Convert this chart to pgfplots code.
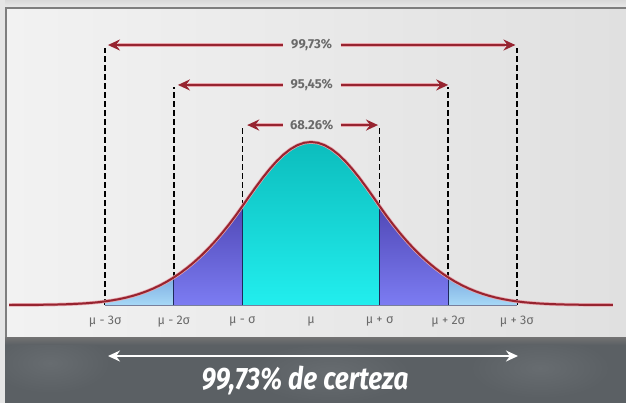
\documentclass[border=0pt]{standalone}
\usepackage{fontspec}
\setmainfont{Fira Sans}
\usepackage{graphicx}
\usepackage{pgfplots}
\pgfplotsset{compat=1.18}
\usepackage{pgfplotstable}
\usetikzlibrary{arrows.meta}

\definecolor{bgdark}{HTML}{5B6064}
\definecolor{bgspot}{HTML}{676C70}
\definecolor{panelL}{HTML}{F2F2F2}
\definecolor{panelR}{HTML}{E0E0E0}
\definecolor{edge}{HTML}{7E7E7E}
\definecolor{curvered}{HTML}{972430}
\definecolor{halo}{HTML}{E8A7AE}
\definecolor{cyanTop}{HTML}{0CBDBD}
\definecolor{cyanBot}{HTML}{22EEEE}
\definecolor{purTop}{HTML}{5048B6}
\definecolor{purBot}{HTML}{7C7CF2}
\definecolor{lbTop}{HTML}{7FAEE2}
\definecolor{lbBot}{HTML}{A6D8F6}
\definecolor{navy}{HTML}{1E2A5A}
\definecolor{labgray}{HTML}{6A6A6A}

\tikzset{
  guide/.style={black, line width=1.7pt, dash pattern=on 6pt off 3pt},
  pct/.style={text=labgray, font=\bfseries\fontsize{13}{14}\selectfont},
  sig/.style={text=labgray, font=\fontsize{12.5}{14}\selectfont},
  redhalo/.style={halo, line width=3.6pt},
  redarrow/.style={curvered, line width=2pt, -{Stealth[length=12pt,width=11pt]}},
}

% standardised normal-shaped curve, peak scaled to 1 (x in sigma units)
\pgfplotstableread{
x y
-4.4 0.00025
-4.2 0.00055
-4.0 0.00109
-3.9 0.00155
-3.8 0.00217
-3.7 0.00301
-3.6 0.00413
-3.5 0.00561
-3.4 0.00754
-3.3 0.01003
-3.2 0.01322
-3.1 0.01722
-3.0 0.02222
-2.9 0.02839
-2.8 0.03591
-2.7 0.04499
-2.6 0.05584
-2.5 0.06866
-2.4 0.08363
-2.3 0.10100
-2.2 0.12093
-2.1 0.14360
-2.0 0.16918
-1.9 0.19778
-1.8 0.22956
-1.7 0.26463
-1.6 0.30306
-1.5 0.34494
-1.4 0.39032
-1.3 0.43922
-1.2 0.49162
-1.1 0.54744
-1.0 0.60653
-0.9 0.66698
-0.8 0.72615
-0.7 0.78270
-0.6 0.83527
-0.5 0.88250
-0.4 0.92312
-0.3 0.95600
-0.2 0.98020
-0.1 0.99501
0.0 1.00000
0.1 0.99501
0.2 0.98020
0.3 0.95600
0.4 0.92312
0.5 0.88250
0.6 0.83527
0.7 0.78270
0.8 0.72615
0.9 0.66698
1.0 0.60653
1.1 0.54744
1.2 0.49162
1.3 0.43922
1.4 0.39032
1.5 0.34494
1.6 0.30306
1.7 0.26463
1.8 0.22956
1.9 0.19778
2.0 0.16918
2.1 0.14360
2.2 0.12093
2.3 0.10100
2.4 0.08363
2.5 0.06866
2.6 0.05584
2.7 0.04499
2.8 0.03591
2.9 0.02839
3.0 0.02222
3.1 0.01722
3.2 0.01322
3.3 0.01003
3.4 0.00754
3.5 0.00561
3.6 0.00413
3.7 0.00301
3.8 0.00217
3.9 0.00155
4.0 0.00109
4.2 0.00055
4.4 0.00025
}\curve

\begin{document}
\begin{tikzpicture}[x=1pt,y=1pt]
\path[use as bounding box] (0,0) rectangle (626,403);
% backdrop: dark strip at the bottom, light panel above
\begin{scope}
\clip (0,0) rectangle (626,403);
\fill[bgdark] (0,0) rectangle (626,403);
\shade[inner color=bgspot, outer color=bgdark] (50,40) ellipse (60 and 30);
\shade[inner color=bgspot, outer color=bgdark] (330,30) ellipse (80 and 30);
\shade[inner color=bgspot, outer color=bgdark] (540,35) ellipse (70 and 30);
\shade[top color=black!55, bottom color=bgdark] (0,58) rectangle (626,66);
\shade[top color=white!85!black, bottom color=white!92!black] (0,395) rectangle (626,403);
\fill[white!90!black] (0,0) rectangle (5,403);
\shade[left color=panelL, right color=panelR] (6,66) rectangle (626,395);
\draw[edge, line width=1.5pt] (6,66) -- (6,395) -- (626,395);
\end{scope}

\begin{axis}[
    at={(0,0)}, anchor=south west,
    width=626pt, height=403pt, scale only axis,
    hide axis, clip=false,
    xmin=-4.5335, xmax=4.5918,
    ymin=-0.6012, ymax=1.8712,
]
% dashed guide lines
\addplot[guide] coordinates {(-3,0) (-3,1.577)};
\addplot[guide] coordinates {(3,0) (3,1.577)};
\addplot[guide] coordinates {(-2,0) (-2,1.337)};
\addplot[guide] coordinates {(2,0) (2,1.337)};
\addplot[guide] coordinates {(-1,0) (-1,1.092)};
\addplot[guide] coordinates {(1,0) (1,1.092)};

% shaded bands
\addplot[draw=none, top color=lbTop, bottom color=lbBot, restrict x to domain=-3:-2] table {\curve} \closedcycle;
\addplot[draw=none, top color=lbTop, bottom color=lbBot, restrict x to domain=2:3] table {\curve} \closedcycle;
\addplot[draw=none, top color=purTop, bottom color=purBot, restrict x to domain=-2:-1] table {\curve} \closedcycle;
\addplot[draw=none, top color=purTop, bottom color=purBot, restrict x to domain=1:2] table {\curve} \closedcycle;
\addplot[draw=none, top color=cyanTop, bottom color=cyanBot, restrict x to domain=-1:1] table {\curve} \closedcycle;

% band borders
\addplot[navy, line width=0.9pt] coordinates {(-2,0) (-2,0.16918)};
\addplot[navy, line width=0.9pt] coordinates {(2,0) (2,0.16918)};
\addplot[navy, line width=0.9pt] coordinates {(-1,0) (-1,0.60653)};
\addplot[navy, line width=0.9pt] coordinates {(1,0) (1,0.60653)};
\addplot[navy!60, line width=0.8pt] coordinates {(-3,0) (3,0)};

% the curve
\addplot[halo, line width=3.4pt] table {\curve};
\addplot[curvered, line width=2pt] table {\curve};

% percentage arrows
\draw[redhalo] (-0.41,1.595) -- (-2.81,1.595);
\draw[redhalo] (0.43,1.595) -- (2.83,1.595);
\draw[redarrow] (-0.41,1.595) -- (-2.96,1.595);
\draw[redarrow] (0.43,1.595) -- (2.98,1.595);
\draw[redhalo] (-0.41,1.350) -- (-1.79,1.350);
\draw[redhalo] (0.43,1.350) -- (1.85,1.350);
\draw[redarrow] (-0.41,1.350) -- (-1.94,1.350);
\draw[redarrow] (0.43,1.350) -- (2.00,1.350);
\draw[redhalo] (-0.41,1.104) -- (-0.78,1.104);
\draw[redhalo] (0.43,1.104) -- (0.83,1.104);
\draw[redarrow] (-0.41,1.104) -- (-0.93,1.104);
\draw[redarrow] (0.43,1.104) -- (0.977,1.104);
\node[pct] at (0.01,1.595) {99,73\%};
\node[pct] at (0.01,1.350) {95,45\%};
\node[pct] at (0.01,1.104) {68.26\%};

% sigma labels
\node[sig] at (-3,-0.104) {μ - 3σ};
\node[sig] at (-2,-0.104) {μ - 2σ};
\node[sig] at (-1,-0.104) {μ - σ};
\node[sig] at (0,-0.104) {μ};
\node[sig] at (1,-0.104) {μ + σ};
\node[sig] at (2,-0.104) {μ + 2σ};
\node[sig] at (3,-0.104) {μ + 3σ};

% bottom caption
\draw[white, line width=1.8pt, {Stealth[length=12pt,width=11pt]}-{Stealth[length=12pt,width=11pt]}] (-2.959,-0.313) -- (3.017,-0.313);
\node[text=white, font=\bfseries\itshape\fontsize{31}{33}\selectfont] at (-0.087,-0.466) {\scalebox{0.84}[1]{99,73\% de certeza}};
\end{axis}
\end{tikzpicture}
\end{document}
